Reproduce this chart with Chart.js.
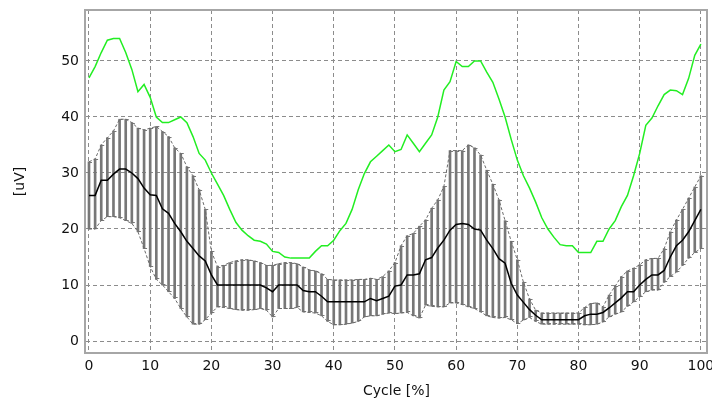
<!DOCTYPE html>
<html>
<head>
<meta charset="utf-8">
<script src="https://cdn.jsdelivr.net/npm/chart.js@4.4.0/dist/chart.umd.min.js"></script>
<style>
  html, body { margin: 0; padding: 0; background: #fff; }
  #wrap { width: 712px; height: 402px; }
</style>
</head>
<body>
<div id="wrap"><canvas id="emgChart" width="712" height="402"></canvas></div>
<script>
"use strict";

// cycle position (%)
const cycle = [0, 1, 2, 3, 4, 5, 6, 7, 8, 9, 10, 11, 12, 13, 14, 15, 16, 17, 18, 19,
  20, 21, 22, 23, 24, 25, 26, 27, 28, 29, 30, 31, 32, 33, 34, 35, 36, 37, 38, 39,
  40, 41, 42, 43, 44, 45, 46, 47, 48, 49, 50, 51, 52, 53, 54, 55, 56, 57, 58, 59,
  60, 61, 62, 63, 64, 65, 66, 67, 68, 69, 70, 71, 72, 73, 74, 75, 76, 77, 78, 79,
  80, 81, 82, 83, 84, 85, 86, 87, 88, 89, 90, 91, 92, 93, 94, 95, 96, 97, 98, 99, 100];

// green curve
const peakCurve = [47, 49, 51.5, 53.7, 54, 54, 51.5, 48.5, 44.5, 45.8, 43.5, 40, 39, 39, 39.5, 40, 39, 36.5, 33.5, 32.3,
  30, 28, 26, 23.5, 21.2, 19.8, 18.8, 18, 17.8, 17.3, 16, 15.8, 15, 14.8, 14.8, 14.8, 14.8, 16, 17, 17,
  18, 19.7, 21, 23.5, 27, 29.9, 32, 33, 34, 35, 33.8, 34.2, 36.8, 35.3, 33.8, 35.3, 36.8, 40, 44.8, 46.3,
  49.9, 49, 49, 50, 50, 48, 46.2, 43.2, 40, 36, 32.3, 29.5, 27.3, 24.8, 22, 20, 18.5, 17.2, 17, 17,
  15.8, 15.8, 15.8, 17.8, 17.8, 20, 21.5, 24, 26, 29.5, 33.5, 38.5, 39.8, 42, 44, 44.8, 44.7, 44, 46.9, 51, 53];

// mean curve
const meanCurve = [26, 26, 28.7, 28.7, 29.8, 30.7, 30.7, 30, 29, 27.3, 26.1, 26, 23.6, 22.8, 21, 19.5, 17.8, 16.5, 15.2, 14.3,
  11.8, 10, 10, 10, 10, 10, 10, 10, 10, 9.5, 8.8, 10, 10, 10, 10, 9, 8.8, 8.8, 8, 7,
  7, 7, 7, 7, 7, 7, 7.6, 7.2, 7.6, 8, 9.8, 10, 11.8, 11.8, 12, 14.5, 14.9, 16.6, 18, 19.8,
  20.8, 21, 20.8, 20, 19.8, 18, 16.5, 14.7, 13.9, 10.3, 8.2, 6.9, 5.6, 4.6, 3.8, 3.8, 3.8, 3.8, 3.8, 3.8,
  3.8, 4.5, 4.8, 4.8, 5.1, 5.9, 6.8, 7.7, 8.8, 8.8, 10, 11, 11.8, 11.8, 12.6, 15, 17, 18, 19.5, 21.5, 23.5];

// mean + sd
const upperBand = [32, 32.5, 35, 36.3, 37.5, 39.6, 39.6, 39, 38, 37.7, 38, 38.3, 37.4, 36.5, 34.5, 33.5, 31.1, 29.5, 27, 23.5,
  16, 13.3, 13.5, 14, 14.3, 14.5, 14.5, 14.3, 14, 13.5, 13.5, 13.8, 14, 14, 13.8, 13.2, 12.7, 12.5, 12, 11,
  10.9, 10.9, 10.9, 10.9, 11, 11, 11.2, 11, 11.5, 12.5, 14, 17, 18.8, 19.2, 20.5, 21.6, 23.7, 25.2, 27.6, 34,
  34, 34, 35, 34.5, 33.2, 30.5, 28, 25.2, 21.5, 17.8, 14.5, 10.5, 7.5, 5.5, 5, 5, 5, 5, 5, 5,
  5, 6, 6.7, 6.8, 6.1, 8.2, 9.8, 11.5, 12.5, 13, 13.6, 14.5, 14.75, 14.75, 16.5, 19.5, 21.6, 23.5, 25.5, 27.5, 29.5];

// mean - sd
const lowerBand = [20, 20, 21.5, 22.2, 22.2, 22, 21.5, 21, 19.5, 16.5, 13.3, 11, 10, 8.8, 7.6, 5.8, 4.3, 3, 3, 3.8,
  5, 6.1, 6, 5.8, 5.6, 5.5, 5.5, 5.6, 5.8, 5.5, 4.3, 5.8, 5.8, 5.8, 6, 5.2, 5.1, 5, 4.5, 3.5,
  2.9, 2.9, 3, 3.2, 3.5, 4.3, 4.5, 4.5, 4.8, 5, 4.9, 5, 5.1, 4.5, 4.1, 6.4, 6.2, 6.1, 6.1, 6.8,
  6.8, 6.5, 6.1, 5.8, 5.2, 4.5, 4.2, 4.1, 4.2, 3.8, 3.1, 3.75, 4.2, 3.5, 3, 3, 3, 3, 3, 3,
  3, 2.9, 2.9, 3, 3.4, 4.3, 4.8, 5.2, 6.2, 7, 7.9, 8.8, 9.1, 9.1, 10.5, 11.5, 12.3, 13.5, 14.8, 15.8, 16.5];

const xTicks = [0, 10, 20, 30, 40, 50, 60, 70, 80, 90, 100];
const yTicks = [0, 10, 20, 30, 40, 50];

const xy = (arr) => arr.map((v, i) => ({ x: cycle[i], y: v }));

const tickFont = { family: 'DejaVu Sans', size: 14 };
const gridColor = '#8c8c8c';

// little caps on the sd bars
const barCaps = {
  id: 'barCaps',
  afterDatasetDraw(chart, args) {
    if (args.meta.type !== 'bar') return;
    const ctx = chart.ctx;
    ctx.save();
    ctx.strokeStyle = '#777777';
    ctx.lineWidth = 1;
    ctx.beginPath();
    args.meta.data.forEach(function (el) {
      const top = Math.round(Math.min(el.y, el.base)) + 0.5;
      const bot = Math.round(Math.max(el.y, el.base)) - 0.5;
      ctx.moveTo(el.x, top); ctx.lineTo(el.x + 3, top);
      ctx.moveTo(el.x, bot); ctx.lineTo(el.x + 3, bot);
    });
    ctx.stroke();
    ctx.restore();
  }
};

// grey frame round the plot
const plotFrame = {
  id: 'plotFrame',
  afterDraw(chart) {
    const a = chart.chartArea, ctx = chart.ctx;
    ctx.save();
    ctx.strokeStyle = '#a6a6a6';
    ctx.lineWidth = 2;
    ctx.strokeRect(a.left - 1, a.top, a.right - a.left + 1, a.bottom - a.top);
    ctx.restore();
  }
};

var emgChart = document.getElementById('emgChart');
if (emgChart) {
  new Chart(emgChart, {
    type: 'line',
    data: {
      datasets: [{
        type: 'bar',
        data: cycle.map((c, i) => ({ x: c, y: [lowerBand[i], upperBand[i]] })),
        backgroundColor: '#777777',
        barThickness: 2,
        order: 5
      }, {
        data: xy(upperBand),
        borderColor: '#6a6a6a',
        borderWidth: 1,
        borderDash: [3, 2],
        pointRadius: 0,
        tension: 0,
        order: 3
      }, {
        data: xy(lowerBand),
        borderColor: '#6a6a6a',
        borderWidth: 1,
        borderDash: [3, 2],
        pointRadius: 0,
        tension: 0,
        order: 3
      }, {
        data: xy(peakCurve),
        borderColor: '#22ee22',
        borderWidth: 1.5,
        pointRadius: 0,
        tension: 0,
        order: 1
      }, {
        data: xy(meanCurve),
        borderColor: '#000000',
        borderWidth: 1.5,
        pointRadius: 0,
        tension: 0,
        order: 0
      }]
    },
    options: {
      responsive: false,
      animation: false,
      layout: { padding: { left: 0, right: 5, top: 10, bottom: 0 } },
      scales: {
        x: {
          type: 'linear',
          offset: false,
          min: -0.49,
          max: 101.0,
          afterBuildTicks: function (s) { s.ticks = xTicks.map(v => ({ value: v })); },
          afterFit: function (s) { s.height = 49; s.paddingLeft = 0; s.paddingRight = 0; },
          grid: { color: gridColor, lineWidth: 1, drawTicks: false, offset: false },
          border: { display: false, dash: [4, 3] },
          ticks: { padding: 5, color: '#111', font: tickFont, maxRotation: 0 },
          title: { display: true, text: 'Cycle [%]', color: '#111', font: tickFont, padding: { top: 0, bottom: 2 } }
        },
        y: {
          min: -2.14,
          max: 59.1,
          afterBuildTicks: function (s) { s.ticks = yTicks.map(v => ({ value: v })); },
          afterFit: function (s) { s.width = 86; s.paddingTop = 0; s.paddingBottom = 0; },
          grid: { color: gridColor, lineWidth: 1, drawTicks: false },
          border: { display: false, dash: [4, 3] },
          ticks: { padding: 7, color: '#111', font: tickFont },
          title: { display: true, text: '[uV]', color: '#111', font: tickFont, padding: { top: 12, bottom: 0 } }
        }
      },
      plugins: {
        legend: { display: false },
        tooltip: { enabled: false }
      }
    },
    plugins: [barCaps, plotFrame]
  });
}
</script>
</body>
</html>
